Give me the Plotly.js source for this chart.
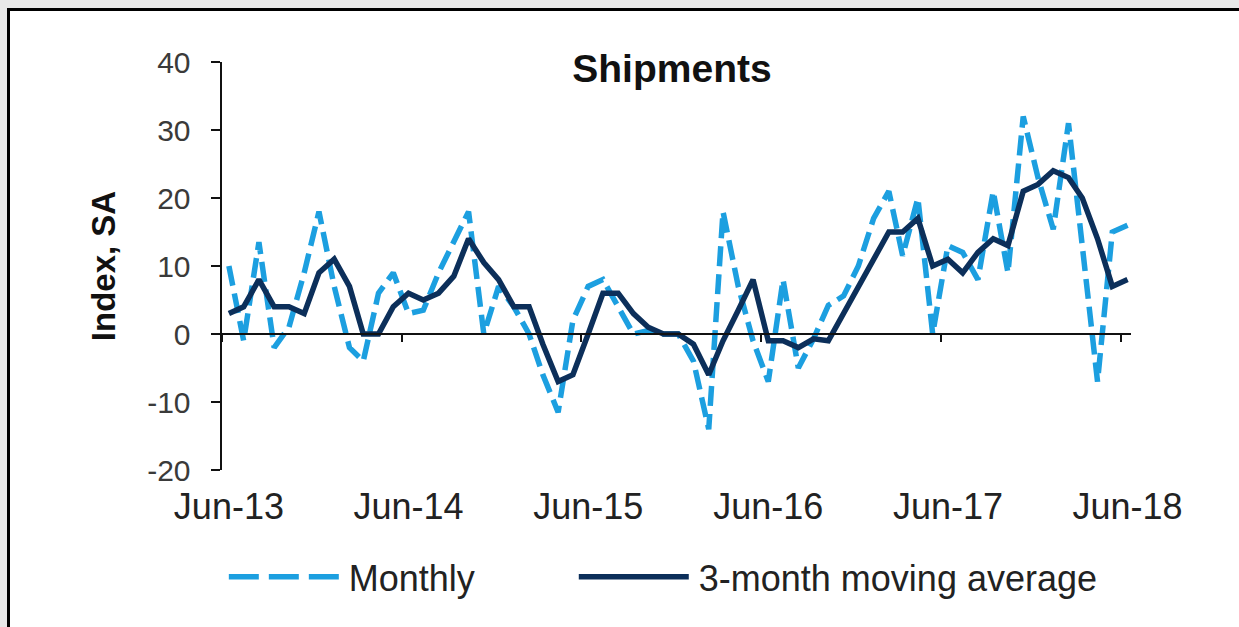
<!DOCTYPE html>
<html>
<head>
<meta charset="utf-8">
<script src="https://cdn.plot.ly/plotly-3.0.1.min.js"></script>
<style>
html,body{margin:0;padding:0;background:#e8e8e8;overflow:hidden;width:1239px;height:627px;}
#frame{position:absolute;left:7px;top:8px;width:1300px;height:700px;border-left:3px solid #000;border-top:3px solid #000;background:#fff;}
#chart{position:absolute;left:0;top:0;width:1239px;height:627px;}
</style>
</head>
<body>
<div id="frame"></div>
<div id="chart"></div>
<script>
// Monthly observation dates (mid-month), Jun-13 .. Jun-18
const months = [
  '2013-06-15','2013-07-15','2013-08-15','2013-09-15','2013-10-15','2013-11-15','2013-12-15',
  '2014-01-15','2014-02-15','2014-03-15','2014-04-15','2014-05-15','2014-06-15','2014-07-15','2014-08-15','2014-09-15','2014-10-15','2014-11-15','2014-12-15',
  '2015-01-15','2015-02-15','2015-03-15','2015-04-15','2015-05-15','2015-06-15','2015-07-15','2015-08-15','2015-09-15','2015-10-15','2015-11-15','2015-12-15',
  '2016-01-15','2016-02-15','2016-03-15','2016-04-15','2016-05-15','2016-06-15','2016-07-15','2016-08-15','2016-09-15','2016-10-15','2016-11-15','2016-12-15',
  '2017-01-15','2017-02-15','2017-03-15','2017-04-15','2017-05-15','2017-06-15','2017-07-15','2017-08-15','2017-09-15','2017-10-15','2017-11-15','2017-12-15',
  '2018-01-15','2018-02-15','2018-03-15','2018-04-15','2018-05-15','2018-06-15'
];

// Shipments index, monthly (dashed light blue)
const monthly = [
  10, -1, 13.5, -2, 1, 9, 18,
  7, -2, -4, 6, 9, 3, 3.5, 9, 13.5, 18, 0, 7,
  4, 0, -6, -11.5, 2, 7, 8, 4, 0, 0.5, 0, 0,
  -4, -14, 18, 7, -1, -7, 8, -5, -0.7, 4.2, 5.6, 10,
  17, 21, 11.5, 20, 0, 13, 12, 8, 21, 9, 32, 23,
  15.4, 31, 13.5, -7, 15, 16
];

// Shipments index, 3-month moving average (solid navy)
const movingAvg = [
  3, 4, 8, 4, 4, 3, 9,
  11, 7, 0, 0, 4, 6, 5, 6, 8.5, 14, 10.5, 8,
  4, 4, -1.5, -7, -6, 0, 6, 6, 3, 1, 0, 0,
  -1.5, -6, -1, 3.5, 8, -1, -1, -2, -0.7, -1, 3, 7,
  11, 15, 15, 17, 10, 11, 9, 12, 14, 13, 21, 22,
  24, 23, 20, 14, 7, 8
];

// Axis ticks
const yearBoundaries = ['2013-06-01','2014-06-01','2015-06-01','2016-06-01','2017-06-01','2018-06-01'];
const labelPositions = ['2013-06-15','2014-06-15','2015-06-15','2016-06-15','2017-06-15','2018-06-15'];
const tickLabels = ['Jun-13','Jun-14','Jun-15','Jun-16','Jun-17','Jun-18'];
const yTicks = [-20, -10, 0, 10, 20, 30, 40];
const yTickLabels = ['-20', '-10', '0', '10', '20', '30', '40'];
const xRange = ['2013-06-01', '2018-06-22'];

const FONT = 'Arial, "Liberation Sans", Helvetica, sans-serif';

const data = [
  {
    name: 'Monthly', x: months, y: monthly, type: 'scatter', mode: 'lines',
    line: {color: '#1c9fe0', width: 5.5, dash: '20px,8px'},
    legend: 'legend', hoverinfo: 'skip'
  },
  {
    name: '3-month moving average', x: months, y: movingAvg, type: 'scatter', mode: 'lines',
    line: {color: '#0c2f5a', width: 5.5},
    legend: 'legend2', hoverinfo: 'skip'
  },
  {
    x: [], y: [], xaxis: 'x2', yaxis: 'y', type: 'scatter', mode: 'lines',
    showlegend: false, hoverinfo: 'skip'
  }
];

const layout = {
  width: 1239, height: 627,
  margin: {l: 222, r: 108, t: 62, b: 157, pad: 0},
  paper_bgcolor: 'rgba(0,0,0,0)',
  plot_bgcolor: 'rgba(0,0,0,0)',
  font: {family: FONT, color: '#222'},
  showlegend: true,
  title: {
    text: 'Shipments',
    font: {family: FONT, size: 39, weight: 'bold', color: '#111'},
    xref: 'paper', x: 0.495, xanchor: 'center',
    yref: 'container', y: 0.891, yanchor: 'middle'
  },
  xaxis: {
    type: 'date', range: xRange, fixedrange: true,
    showline: false, showgrid: false, zeroline: false,
    ticks: '', tickmode: 'array', tickvals: labelPositions, ticktext: tickLabels,
    tickfont: {family: FONT, size: 36, color: '#222'},
    ticklabelstandoff: 12
  },
  xaxis2: {
    type: 'date', range: xRange, overlaying: 'x', anchor: 'free', position: 1/3, side: 'bottom',
    showline: true, linecolor: '#111', linewidth: 2,
    ticks: 'outside', ticklen: 7, tickwidth: 2, tickcolor: '#111',
    tickmode: 'array', tickvals: yearBoundaries, showticklabels: false,
    showgrid: false, zeroline: false
  },
  yaxis: {
    range: [-20, 40], fixedrange: true,
    tickmode: 'array', tickvals: yTicks, ticktext: yTickLabels,
    showline: true, linecolor: '#111', linewidth: 2.5,
    ticks: 'outside', ticklen: 9, tickwidth: 2, tickcolor: '#111',
    showgrid: false, zeroline: false,
    tickfont: {family: FONT, size: 30, color: '#3a3a3a'},
    ticklabelstandoff: 14,
    title: {text: 'Index, SA', font: {family: FONT, size: 33, weight: 'bold', color: '#111'}, standoff: 22}
  },
  legend: {
    orientation: 'h', x: 0.002, xanchor: 'left', y: -0.262, yanchor: 'middle',
    font: {family: FONT, size: 36, color: '#222'}, itemwidth: 115,
    bgcolor: 'rgba(0,0,0,0)', borderwidth: 0
  },
  legend2: {
    orientation: 'h', x: 0.387, xanchor: 'left', y: -0.262, yanchor: 'middle',
    font: {family: FONT, size: 36, color: '#222'}, itemwidth: 115,
    bgcolor: 'rgba(0,0,0,0)', borderwidth: 0
  }
};

function stretchLegendSamples() {
  document.querySelectorAll('#chart .legendlines path').forEach(function (p) {
    p.setAttribute('d', 'M5,0h110');
    if (p.style.strokeDasharray && p.style.strokeDasharray !== 'none') {
      p.style.strokeDasharray = '30px, 10px';
    }
  });
}

Plotly.newPlot('chart', data, layout, {staticPlot: true, displayModeBar: false}).then(function (gd) {
  stretchLegendSamples();
  gd.on('plotly_afterplot', stretchLegendSamples);
});
</script>
</body>
</html>
